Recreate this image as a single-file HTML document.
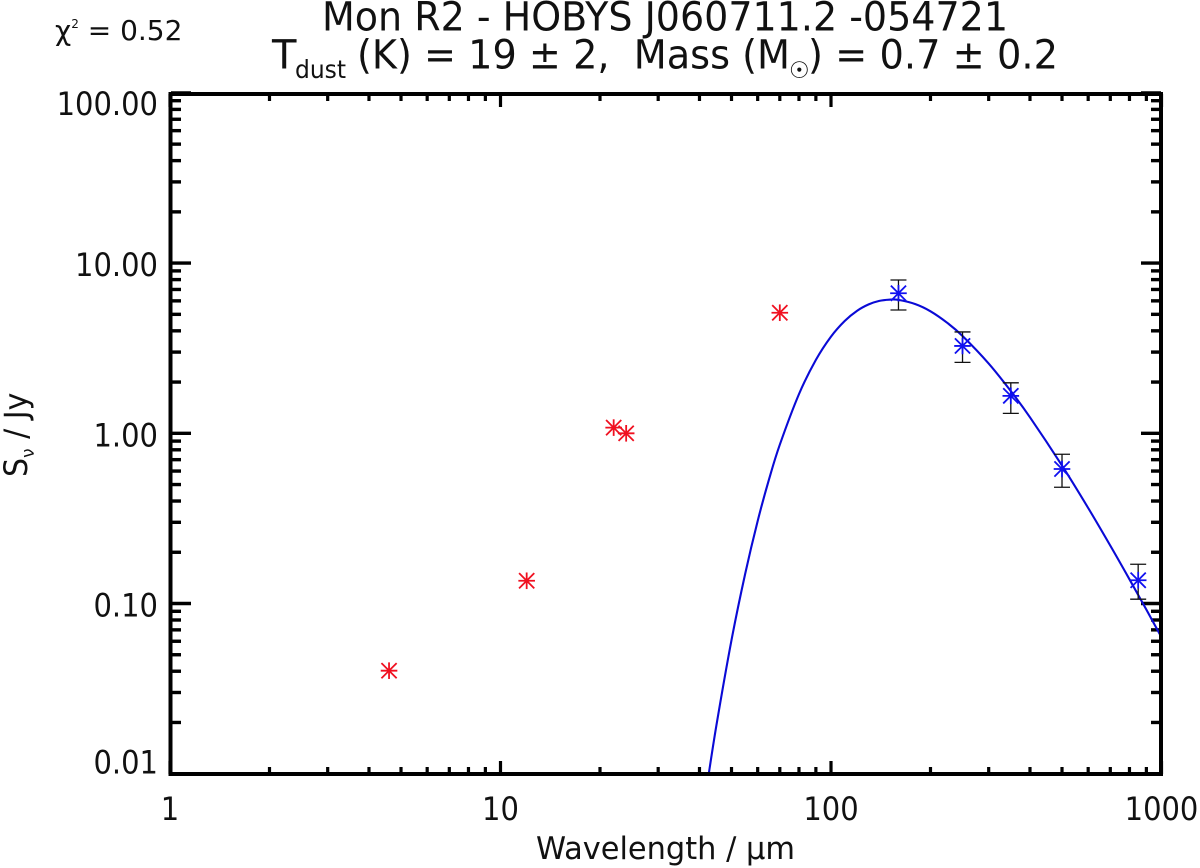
<!DOCTYPE html>
<html lang="en">
<head>
<meta charset="utf-8">
<title>Mon R2 - HOBYS J060711.2 -054721</title>
<style>
html,body{margin:0;padding:0;background:#fff;width:1200px;height:868px;overflow:hidden}
svg{display:block}
text{font-family:"DejaVu Sans","Liberation Sans",sans-serif;fill:#111}
</style>
</head>
<body>
<svg id="chart" width="1200" height="868" viewBox="0 0 1200 868" xmlns="http://www.w3.org/2000/svg">
  <defs><clipPath id="plot-clip"><rect x="170" y="93" width="991.5" height="681"/></clipPath></defs>
  <text x="55" y="40" font-size="28" xml:space="preserve">χ<tspan font-size="12" dy="-12">2</tspan><tspan dy="12"> = 0.52</tspan></text>
  <text x="322" y="30.5" font-size="40" textLength="686" lengthAdjust="spacingAndGlyphs">Mon R2 - HOBYS J060711.2 -054721</text>
  <g>
    <text x="272" y="68.5" font-size="40">T</text>
    <text x="295" y="78" font-size="25" textLength="51" lengthAdjust="spacingAndGlyphs">dust</text>
    <text x="357" y="68.5" font-size="40" textLength="433" lengthAdjust="spacingAndGlyphs" xml:space="preserve">(K) = 19 ± 2,  Mass (M</text>
    <text x="789" y="78" font-size="23">☉</text>
    <text x="808" y="68.5" font-size="40" textLength="250" lengthAdjust="spacingAndGlyphs">) = 0.7 ± 0.2</text>
  </g>
  <text x="536" y="859" font-size="31" textLength="259" lengthAdjust="spacingAndGlyphs">Wavelength / µm</text>
  <text transform="translate(27,477) rotate(-90) scale(0.94,1)" font-size="32">S<tspan font-size="18" dy="7">ν</tspan><tspan dy="-7"> / Jy</tspan></text>
  <g id="ticks"></g>
  <g id="tick-labels"></g>
  <g id="series"></g>
  <rect x="170.5" y="94" width="990.5" height="680" fill="none" stroke="#000" stroke-width="4"/>
</svg>
<script>
const xTickValues = [1, 10, 100, 1000];
const xTickLabels = ['1', '10', '100', '1000'];
const yTickValues = [100, 10, 1, 0.1, 0.01];
const yTickLabels = ['100.00', '10.00', '1.00', '0.10', '0.01'];

const redWavelengths = [4.6, 12, 22, 24, 70];
const redFluxes = [0.0403, 0.136, 1.08, 1.00, 5.11];

const blueWavelengths = [160, 250, 350, 500, 850];
const blueFluxes = [6.65, 3.26, 1.66, 0.617, 0.137];
const blueErrorHigh = [7.96, 3.94, 1.98, 0.753, 0.170];
const blueErrorLow = [5.30, 2.61, 1.31, 0.482, 0.106];

const fitWavelengths = [42, 45, 50, 55, 60, 65, 70, 80, 90, 100, 110, 120, 130, 140, 150, 160, 180, 200, 225, 250, 300, 350, 400, 500, 600, 700, 800, 900, 1000];
const fitFluxes = [0.00815, 0.0192, 0.061, 0.1496, 0.3055, 0.54, 0.857, 1.699, 2.70, 3.70, 4.57, 5.25, 5.72, 6.00, 6.10, 6.08, 5.74, 5.21, 4.45, 3.73, 2.57, 1.77, 1.241, 0.646, 0.364, 0.2187, 0.1387, 0.092, 0.0633];

const NS = 'http://www.w3.org/2000/svg';
const xScale = v => 170 + Math.log10(v) * 330.5;
const yScale = v => 773.7 - (Math.log10(v) + 2) * 170.2;

function make(parent, tag, attrs) {
  const el = document.createElementNS(NS, tag);
  for (const k in attrs) el.setAttribute(k, attrs[k]);
  parent.appendChild(el);
  return el;
}

const ticks = document.getElementById('ticks');
const labels = document.getElementById('tick-labels');
const series = document.getElementById('series');

function drawXTick(x, len, w) {
  const b = make(ticks, 'line', {x1: x, x2: x, y1: 774, y2: 774 - len, stroke: '#000', 'stroke-width': w});
  
  
  const t = make(ticks, 'line', {x1: x, x2: x, y1: 94, y2: 94 + len, stroke: '#000', 'stroke-width': w});
  
  
}
function drawYTick(y, len, w) {
  const l = make(ticks, 'line', {x1: 171, x2: 171 + len, y1: y, y2: y, stroke: '#000', 'stroke-width': w});
  
  
  const r = make(ticks, 'line', {x1: 1161, x2: 1161 - len, y1: y, y2: y, stroke: '#000', 'stroke-width': w});
  
  
}

xTickValues.forEach((v, i) => {
  drawXTick(xScale(v), 13, 3.2);
  if (i < xTickValues.length - 1) {
    for (let m = 2; m <= 9; m++) drawXTick(xScale(v * m), 7, 3.2);
  }
  const t = make(labels, 'text', {transform: 'translate(' + xScale(v) + ',820) scale(0.906,1)', 'font-size': 32, 'text-anchor': 'middle'});
  
  
  t.textContent = xTickLabels[i];
});

yTickValues.forEach((v, i) => {
  drawYTick(yScale(v), 20, 3.4);
  if (i > 0) {
    for (let m = 2; m <= 9; m++) drawYTick(yScale(yTickValues[i] * m), 10, 3.4);
  }
  let base = yScale(v) + 13;
  if (i === 0) base = yScale(v) + 22;
  if (i === yTickValues.length - 1) base = yScale(v);
  const t = make(labels, 'text', {transform: 'translate(158,' + base + ') scale(0.906,1)', 'font-size': 32, 'text-anchor': 'end'});
  
  
  t.textContent = yTickLabels[i];
});

function smoothPath(px) {
  let d = 'M' + px[0][0].toFixed(2) + ' ' + px[0][1].toFixed(2);
  for (let i = 0; i < px.length - 1; i++) {
    const p0 = px[Math.max(0, i - 1)], p1 = px[i], p2 = px[i + 1], p3 = px[Math.min(px.length - 1, i + 2)];
    const c1x = p1[0] + (p2[0] - p0[0]) / 6, c1y = p1[1] + (p2[1] - p0[1]) / 6;
    const c2x = p2[0] - (p3[0] - p1[0]) / 6, c2y = p2[1] - (p3[1] - p1[1]) / 6;
    d += 'C' + c1x.toFixed(2) + ' ' + c1y.toFixed(2) + ' ' + c2x.toFixed(2) + ' ' + c2y.toFixed(2) + ' ' + p2[0].toFixed(2) + ' ' + p2[1].toFixed(2);
  }
  return d;
}

const fitPixels = fitWavelengths.map((w, i) => [xScale(w), yScale(fitFluxes[i])]);
const fit = make(series, 'path', {d: smoothPath(fitPixels), fill: 'none', stroke: '#0a0ad6', 'stroke-width': 2.1, 'clip-path': 'url(#plot-clip)'});



function drawMarker(cx, cy, color, name) {
  const g = make(series, 'g', {stroke: color, 'stroke-width': 1.8, fill: 'none'});
  
  
  make(g, 'line', {x1: cx - 8.3, x2: cx + 8.3, y1: cy, y2: cy});
  make(g, 'line', {x1: cx, x2: cx, y1: cy - 8.3, y2: cy + 8.3});
  make(g, 'line', {x1: cx - 7.6, x2: cx + 7.6, y1: cy - 7.6, y2: cy + 7.6});
  make(g, 'line', {x1: cx - 7.6, x2: cx + 7.6, y1: cy + 7.6, y2: cy - 7.6});
  make(g, 'circle', {cx: cx, cy: cy, r: 1.8, fill: color, stroke: 'none'});
}

blueWavelengths.forEach((w, i) => {
  const x = xScale(w), hi = yScale(blueErrorHigh[i]), lo = yScale(blueErrorLow[i]);
  const g = make(series, 'g', {stroke: '#111', 'stroke-width': 1.3});
  
  
  make(g, 'line', {x1: x, x2: x, y1: hi, y2: lo});
  make(g, 'line', {x1: x - 8, x2: x + 8, y1: hi, y2: hi});
  make(g, 'line', {x1: x - 8, x2: x + 8, y1: lo, y2: lo});
});

blueWavelengths.forEach((w, i) => drawMarker(xScale(w), yScale(blueFluxes[i]), '#1010f0', 'fitted-point'));
redWavelengths.forEach((w, i) => drawMarker(xScale(w), yScale(redFluxes[i]), '#f01020', 'excluded-point'));
</script>
</body>
</html>
